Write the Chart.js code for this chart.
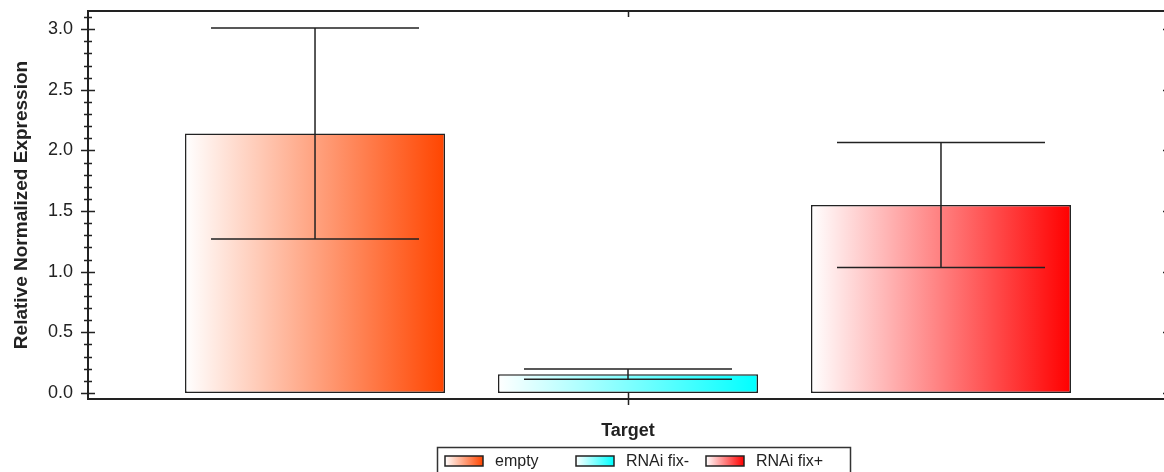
<!DOCTYPE html>
<html>
<head>
<meta charset="utf-8">
<script src="https://cdn.jsdelivr.net/npm/chart.js@4/dist/chart.umd.min.js"></script>
<style>
  html, body { margin: 0; padding: 0; background: #fff; overflow: hidden; }
  #wrap { width: 1172px; height: 472px; }
</style>
</head>
<body>
<div id="wrap"><canvas id="c" width="1172" height="472"></canvas></div>
<script>
// Relative normalized expression of one target across three conditions
const categories = ['Target'];
const seriesNames = ['empty', 'RNAi fix-', 'RNAi fix+'];
const means = [2.14, 0.155, 1.55];
const errors = [0.87, 0.043, 0.515];
const seriesColors = ['#ff4500', '#00ffff', '#ff0000'];
const tickLabels = ['0.0', '0.5', '1.0', '1.5', '2.0', '2.5', '3.0'];
const yTitle = 'Relative Normalized Expression';
const xTitle = 'Target';

const FONT = "'Liberation Sans', Arial, sans-serif";
const INK = '#222';

function hGradient(ctx, left, width, color) {
  const g = ctx.createLinearGradient(left, 0, left + width, 0);
  g.addColorStop(0, '#ffffff');
  g.addColorStop(1, color);
  return g;
}

// Horizontal white-to-colour fill for each bar
const gradientFill = {
  id: 'gradientFill',
  beforeDatasetsDraw(chart) {
    const ctx = chart.ctx;
    chart.data.datasets.forEach((ds, i) => {
      chart.getDatasetMeta(i).data.forEach(el => {
        const p = el.getProps(['x', 'width'], true);
        const left = p.x - p.width / 2;
        el.options = Object.assign({}, el.options, {
          backgroundColor: hGradient(ctx, left, p.width, seriesColors[i])
        });
      });
    });
  }
};

// Frame, crossing tick marks, error bars and the boxed legend
const frameAndErrors = {
  id: 'frameAndErrors',
  afterDatasetsDraw(chart) {
    const ctx = chart.ctx;
    const a = chart.chartArea;
    const y = chart.scales.y;
    const x = chart.scales.x;
    ctx.save();

    // error bars
    ctx.strokeStyle = INK;
    ctx.lineWidth = 1.5;
    chart.data.datasets.forEach((ds, i) => {
      chart.getDatasetMeta(i).data.forEach((el, j) => {
        const p = el.getProps(['x', 'width'], true);
        const m = ds.data[j], e = errors[i];
        const yTop = y.getPixelForValue(m + e);
        const yBot = y.getPixelForValue(m - e);
        const half = p.width * 0.4;
        ctx.beginPath();
        ctx.moveTo(p.x, yTop); ctx.lineTo(p.x, yBot);
        ctx.moveTo(p.x - half, yTop); ctx.lineTo(p.x + half, yTop);
        ctx.moveTo(p.x - half, yBot); ctx.lineTo(p.x + half, yBot);
        ctx.stroke();
      });
    });

    // frame
    ctx.lineWidth = 2;
    ctx.strokeRect(a.left, a.top, a.right - a.left, a.bottom - a.top);

    // ticks: major every 0.5 (both sides), minor every 0.1 on the left
    ctx.lineWidth = 1.5;
    ctx.beginPath();
    for (let k = 0; k <= 31; k++) {
      const py = Math.round(y.getPixelForValue(k / 10)) + 0.5;
      if (k % 5 === 0) {
        ctx.moveTo(a.left - 7, py); ctx.lineTo(a.left + 7, py);
        ctx.moveTo(a.right - 5, py); ctx.lineTo(a.right + 5, py);
      } else {
        ctx.moveTo(a.left - 4, py); ctx.lineTo(a.left + 4, py);
      }
    }
    // category tick, bottom and top
    const cx = Math.round(x.getPixelForValue(0)) + 0.5;
    ctx.moveTo(cx, a.bottom - 6); ctx.lineTo(cx, a.bottom + 6);
    ctx.moveTo(cx, a.top); ctx.lineTo(cx, a.top + 6);
    ctx.stroke();
    ctx.restore();
  },
  afterDraw(chart) {
    const ctx = chart.ctx;
    ctx.save();
    ctx.strokeStyle = '#333';
    ctx.lineWidth = 1.5;
    ctx.strokeRect(437.5, 447.5, 413, 32);
    const items = [445, 576, 706];
    ctx.font = '16px ' + FONT;
    ctx.textBaseline = 'alphabetic';
    seriesNames.forEach((name, i) => {
      const sx = items[i];
      ctx.fillStyle = hGradient(ctx, sx, 38, seriesColors[i]);
      ctx.fillRect(sx, 456, 38, 10);
      ctx.strokeStyle = INK;
      ctx.lineWidth = 1.5;
      ctx.strokeRect(sx, 456, 38, 10);
      ctx.fillStyle = INK;
      ctx.fillText(name, sx + 50, 466);
    });
    ctx.restore();
  }
};

new Chart(document.getElementById('c'), {
  type: 'bar',
  data: {
    labels: categories,
    datasets: seriesNames.map((name, i) => ({
      label: name,
      data: [means[i]],
      backgroundColor: seriesColors[i],
      borderColor: INK,
      borderWidth: 1.5,
      borderSkipped: false,
      categoryPercentage: 0.8694,
      barPercentage: 0.8307
    }))
  },
  options: {
    responsive: false,
    animation: false,
    layout: { padding: { top: 11, right: 4, left: 0, bottom: 0 } },
    plugins: {
      legend: { display: false },
      tooltip: { enabled: false }
    },
    scales: {
      x: {
        grid: { display: false, drawTicks: false },
        border: { display: false },
        ticks: { display: false },
        title: {
          display: true,
          text: xTitle,
          color: INK,
          font: { family: FONT, size: 18, weight: 'bold' },
          padding: { top: 0, bottom: 30 }
        },
        afterFit(scale) {
          scale.height = 73;
          scale.paddingLeft = 0;
          scale.paddingRight = 0;
        }
      },
      y: {
        min: -0.05,
        max: 3.15,
        grid: { display: false, drawTicks: false },
        border: { display: false },
        afterBuildTicks(scale) {
          scale.ticks = tickLabels.map(t => ({ value: parseFloat(t) }));
        },
        ticks: {
          color: INK,
          padding: 15,
          font: { family: FONT, size: 18 },
          callback: v => Number(v).toFixed(1)
        },
        title: {
          display: true,
          text: yTitle,
          color: INK,
          font: { family: FONT, size: 19, weight: 'bold' },
          padding: { top: 10, bottom: 0 }
        },
        afterFit(scale) {
          scale.width = 88;
          scale.paddingTop = 0;
          scale.paddingBottom = 0;
        }
      }
    }
  },
  plugins: [gradientFill, frameAndErrors]
});
</script>
</body>
</html>
